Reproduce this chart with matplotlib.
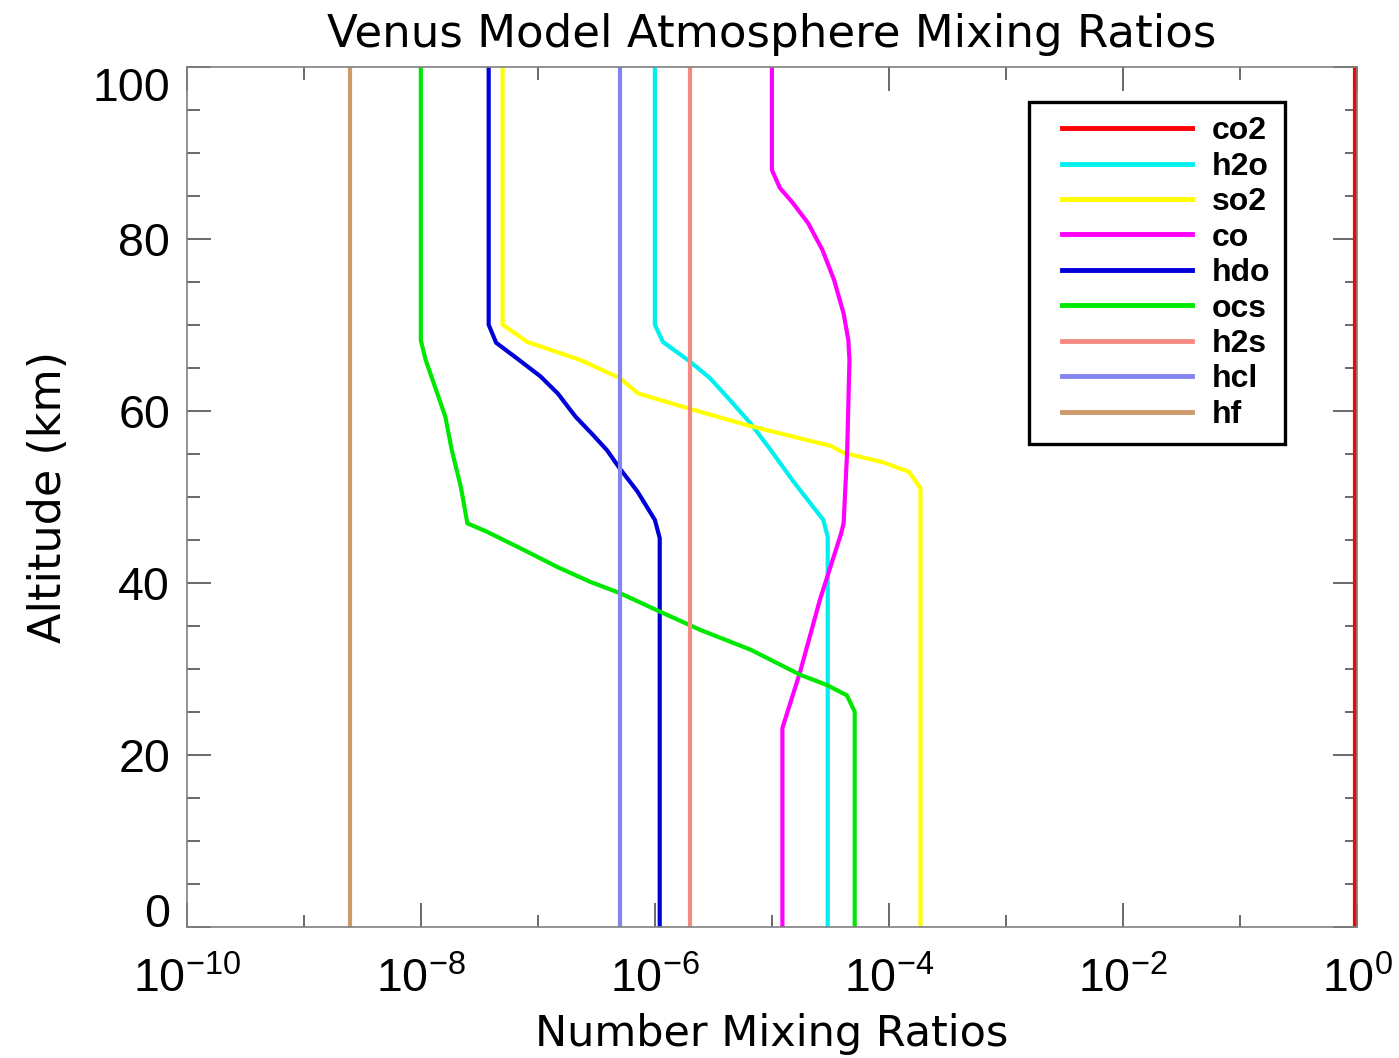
import numpy as np
import matplotlib
matplotlib.use('Agg')
from matplotlib import pyplot as plt
from matplotlib.ticker import FixedLocator, FuncFormatter
from matplotlib.lines import Line2D
from matplotlib.legend_handler import HandlerLine2D


# altitude (km) and number mixing ratio for each gas
species = ['co2', 'h2o', 'so2', 'co', 'hdo', 'ocs', 'h2s', 'hcl', 'hf']
colors = ['#ff0000', '#00f0f0', '#ffff00', '#ff00ff', '#0000d8',
          '#00e800', '#f58a82', '#8484f0', '#cd9a6a']

co2_alt = [0, 100]
co2_vmr = [0.965, 0.965]

h2o_alt = [0, 45.3, 47.3, 51.9, 55.4, 58.5, 61.2, 63.8, 65.7, 68.0, 70, 100]
h2o_vmr = [3.0e-5, 3.0e-5, 2.75e-5, 1.5e-5, 9.8e-6, 6.6e-6, 4.4e-6, 2.95e-6,
           2.0e-6, 1.17e-6, 1.0e-6, 1.0e-6]

so2_alt = [0, 51.0, 52.9, 54.0, 55.1, 55.9, 57.0, 58.3, 60.3, 62.0, 63.8,
           65.9, 68.0, 70, 100]
so2_vmr = [1.86e-4, 1.86e-4, 1.48e-4, 8.9e-5, 4.1e-5, 3.2e-5, 1.5e-5, 6.2e-6,
           1.9e-6, 7.2e-7, 5.0e-7, 2.3e-7, 8.1e-8, 5.0e-8, 5.0e-8]

co_alt = [0, 23.1, 29.6, 38.0, 45.7, 46.9, 55.4, 65.9, 68.2, 71.3, 75.2,
          78.7, 81.8, 84.2, 85.9, 88, 100]
co_vmr = [1.23e-5, 1.23e-5, 1.74e-5, 2.57e-5, 3.9e-5, 4.1e-5, 4.4e-5, 4.6e-5,
          4.5e-5, 4.1e-5, 3.4e-5, 2.7e-5, 2.04e-5, 1.5e-5, 1.17e-5, 1.0e-5, 1.0e-5]

hdo_alt = [0, 45.2, 47.3, 50.6, 53.3, 55.4, 57.2, 59.3, 62.0, 64.0, 66.1,
           67.9, 70, 100]
hdo_vmr = [1.1e-6, 1.1e-6, 1.0e-6, 7.1e-7, 5.0e-7, 3.9e-7, 2.95e-7, 2.1e-7,
           1.48e-7, 1.05e-7, 6.6e-8, 4.4e-8, 3.8e-8, 3.8e-8]

ocs_alt = [0, 25.0, 26.9, 28.1, 29.3, 32.2, 34.5, 36.6, 38.8, 40.1, 41.8,
           43.8, 45.9, 46.9, 51.1, 55.4, 59.3, 62.8, 65.9, 68.2, 100]
ocs_vmr = [5.1e-5, 5.1e-5, 4.37e-5, 2.95e-5, 1.74e-5, 6.6e-6, 2.45e-6, 1.12e-6,
           5.0e-7, 2.8e-7, 1.48e-7, 7.6e-8, 3.7e-8, 2.5e-8, 2.2e-8, 1.84e-8,
           1.62e-8, 1.32e-8, 1.1e-8, 1.0e-8, 1.0e-8]

h2s_alt = [0, 100]
h2s_vmr = [2.0e-6, 2.0e-6]

hcl_alt = [0, 100]
hcl_vmr = [5.0e-7, 5.0e-7]

hf_alt = [0, 100]
hf_vmr = [2.5e-9, 2.5e-9]

profiles = [(co2_alt, co2_vmr), (h2o_alt, h2o_vmr), (so2_alt, so2_vmr),
            (co_alt, co_vmr), (hdo_alt, hdo_vmr), (ocs_alt, ocs_vmr),
            (h2s_alt, h2s_vmr), (hcl_alt, hcl_vmr), (hf_alt, hf_vmr)]

x_major = [1e-10, 1e-8, 1e-6, 1e-4, 1e-2, 1e0]
x_minor = [1e-9, 1e-7, 1e-5, 1e-3, 1e-1]
y_major = [0, 20, 40, 60, 80, 100]


fig = plt.figure(figsize=(13.99, 10.58), dpi=100)
ax = fig.add_axes([0.1335, 0.1241, 0.8365, 0.8129])

for (alt, vmr), name, col in zip(profiles, species, colors):
    ax.plot(vmr, alt, color=col, lw=3, label=name, solid_joinstyle='round')

ax.set_xscale('log')
ax.set_xlim(1e-10, 1e0)
ax.set_ylim(0, 100)

ax.xaxis.set_major_locator(FixedLocator(x_major))
ax.xaxis.set_minor_locator(FixedLocator(x_minor))
ax.xaxis.set_major_formatter(FuncFormatter(
    lambda v, p: r'$\mathregular{10^{%d}}$' % int(round(np.log10(v)))))
ax.xaxis.set_minor_formatter(FuncFormatter(lambda v, p: ''))
ax.yaxis.set_major_locator(FixedLocator(y_major))
ax.yaxis.set_minor_locator(FixedLocator(np.arange(5, 100, 5)))

ax.tick_params(which='both', direction='in', top=True, right=True,
               color='#505050', width=1.2)
ax.tick_params(which='major', length=17)
ax.tick_params(which='minor', length=9)
ax.tick_params(axis='x', which='major', pad=22)
ax.tick_params(axis='y', which='major', pad=12)
for lab in ax.get_xticklabels() + ax.get_yticklabels():
    lab.set_fontfamily('Liberation Sans')
    lab.set_fontsize(33.5)

# IDL style: end labels pulled inside the axis range
ylabs = ax.get_yticklabels()
ylabs[0].set_va('baseline')
ylabs[-1].set_va('top')

for sp in ax.spines.values():
    sp.set_color('#808080')
    sp.set_linewidth(1.2)

ax.set_title('Venus Model Atmosphere Mixing Ratios', fontsize=32.5, pad=14)
ax.set_xlabel('Number Mixing Ratios', fontsize=31, labelpad=8)
ax.set_ylabel('Altitude (km)', fontsize=32, labelpad=16)

leg = ax.legend(loc='upper right', bbox_to_anchor=(1285 / 1399, 1 - 102 / 1058),
                bbox_transform=fig.transFigure, frameon=True, fancybox=False,
                framealpha=1, edgecolor='black', handlelength=4.66,
                handletextpad=0.63, labelspacing=0.17, borderpad=0.45,
                borderaxespad=0,
                handler_map={Line2D: HandlerLine2D(xpad=0.58, marker_pad=0)},
                prop={'family': 'Liberation Sans', 'weight': 'bold', 'size': 23})
leg.get_frame().set_linewidth(2.4)
for ln in leg.get_lines():
    ln.set_linewidth(3.5)

plt.savefig('out.png', dpi=100)
